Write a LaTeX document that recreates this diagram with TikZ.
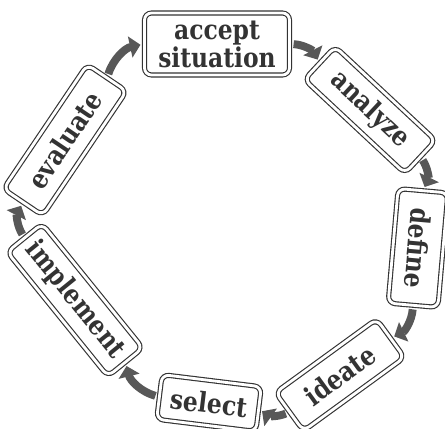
\documentclass[tikz,border=0pt]{standalone}
\usepackage{fontspec}
\setmainfont[FakeStretch=0.86]{DejaVu Serif}
\usetikzlibrary{arrows.meta}
\definecolor{cInk}{HTML}{333333}
\definecolor{cArr}{HTML}{585858}
\tikzset{
    stage/.style  ={draw=cInk, line width=0.65pt, double, double distance=1.6pt,
                    rounded corners=4pt, align=center, inner sep=1pt,
                    font=\bfseries\fontsize{15.5}{13}\selectfont, text=cInk},
    nextarr/.style={-{Triangle[length=6pt, width=12pt]}, line width=4.5pt, cArr,
                    shorten <=2pt, shorten >=2pt},
}

\begin{document}
\begin{tikzpicture}[x=1cm, y=1cm]
\useasboundingbox (0,0) rectangle (8.9,8.56);

% ===================== Stages, round the ring =====================
\node[stage, minimum width=2.9cm, minimum height=1.24cm] (accept) at (4.34,7.68)
     {accept\\situation};
\node[stage, rotate=-43, minimum width=2.75cm, minimum height=0.9cm] (analyze) at (7.40,6.36) {analyze};
\node[stage, rotate=-95, minimum width=2.3cm,  minimum height=1.0cm] (define)  at (8.36,3.60) {define};
\node[stage, rotate=36,  minimum width=2.5cm,  minimum height=0.95cm] (ideate) at (6.80,1.06) {ideate};
\node[stage, rotate=-7,  minimum width=2.0cm,  minimum height=0.9cm] (select)  at (4.18,0.50) {select};
\node[stage, rotate=-51, minimum width=3.2cm,  minimum height=0.9cm] (implement) at (1.50,2.56) {implement};
\node[stage, rotate=56,  minimum width=3.0cm,  minimum height=0.95cm] (evaluate) at (1.30,5.76) {evaluate};

% ===================== Arrows, clockwise =====================
\draw[nextarr] (evaluate.east) to[bend left=30] (accept.west);
\draw[nextarr] (accept.east)   to[bend left=30] (analyze.west);
\draw[nextarr] (analyze.east)  to[bend left=30] (define.west);
\draw[nextarr] (define.east)   to[bend left=30] (ideate.east);
\draw[nextarr] (ideate.west)   to[bend left=30] (select.east);
\draw[nextarr] (select.west)   to[bend left=30] (implement.east);
\draw[nextarr] (implement.west) to[bend left=30] (evaluate.west);

\end{tikzpicture}
\end{document}
